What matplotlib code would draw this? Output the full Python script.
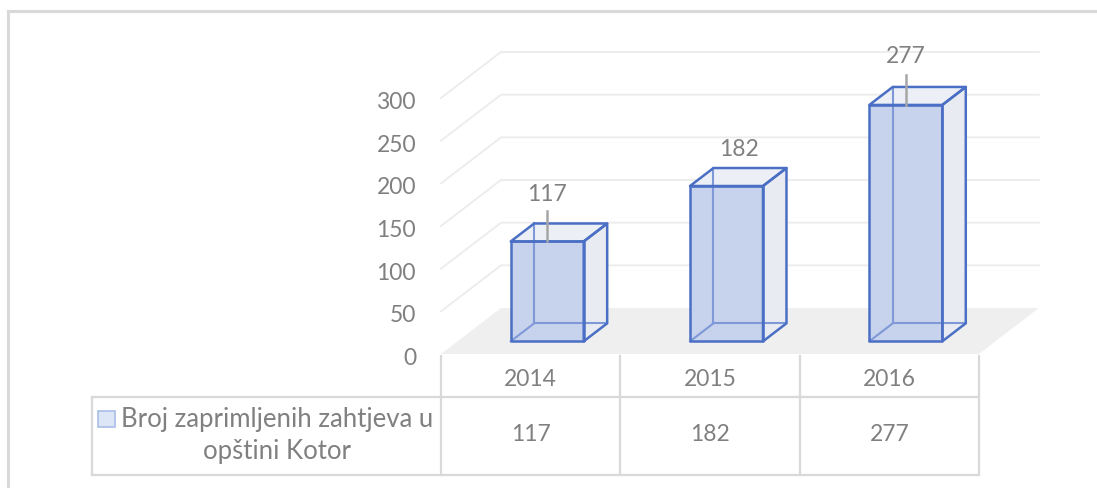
import matplotlib
matplotlib.use('Agg')
import numpy as np
import matplotlib.pyplot as plt
from matplotlib.patches import Polygon, Rectangle

plt.rcParams['font.family'] = ['Lato', 'DejaVu Sans']

# ---- data ----
years = ['2014', '2015', '2016']
values = [117, 182, 277]
series_name = 'Broj zaprimljenih zahtjeva u\nopštini Kotor'
yticks = [0, 50, 100, 150, 200, 250, 300]

# ---- layout (pixel mapping of the fake 3D box) ----
W, H = 1097, 489
PX_CAT = 179.3          # pixels per category
LEFT_PX = 441           # pixel of x = -0.5
PX_VAL = 0.8533         # pixels per value unit
ZERO_PY = 355           # pixel row of value 0 (front)
DX = 60 / PX_CAT        # depth offset of the floor
DV = 46 / PX_VAL
D1, D2 = 0.276, 0.667   # bar depth (front/back)
HW = 0.2036             # half bar width


def px2x(px):
    return -0.5 + (px - LEFT_PX) / PX_CAT


def py2v(py):
    return (ZERO_PY - py) / PX_VAL


def proj(x, v, d):
    return (x + d * DX, v + d * DV)


fig = plt.figure(figsize=(W / 100, H / 100), dpi=100)
ax = fig.add_axes([0, 0, 1, 1])
ax.set_xlim(px2x(0), px2x(W))
ax.set_ylim(py2v(H), py2v(0))
ax.axis('off')

grid_c = '#ececec'
line_c = '#d9d9d9'
txt_c = '#808080'
blue = '#4a6fc4'
FS = 16.5
FS_LEG = 18.5

n = len(years)
xl, xr = -0.5, n - 0.5

# gridlines (left wall + back wall)
for v in yticks[1:]:
    p0 = proj(xl, v, 0)
    p1 = proj(xl, v, 1)
    p2 = proj(xr, v, 1)
    ax.plot([p0[0], p1[0], p2[0]], [p0[1], p1[1], p2[1]], color=grid_c, lw=1.3, zorder=1)

# floor
floor = [proj(xl, 0, 0), proj(xr, 0, 0), proj(xr, 0, 1), proj(xl, 0, 1)]
ax.add_patch(Polygon(floor, closed=True, fc='#efefef', ec='none', zorder=2))

# y tick labels
for v in yticks:
    ax.text(px2x(416), v - 4, str(v), ha='right', va='center', fontsize=FS, color=txt_c)

# bars
for i, val in enumerate(values):
    a, b = i - HW, i + HW
    front = [proj(a, 0, D1), proj(b, 0, D1), proj(b, val, D1), proj(a, val, D1)]
    side = [proj(b, 0, D1), proj(b, 0, D2), proj(b, val, D2), proj(b, val, D1)]
    top = [proj(a, val, D1), proj(b, val, D1), proj(b, val, D2), proj(a, val, D2)]
    ax.add_patch(Polygon(side, closed=True, fc='#e8ebf2', ec='none', zorder=3))
    ax.add_patch(Polygon(top, closed=True, fc='#eceff6', ec='none', zorder=3))
    ax.add_patch(Polygon(front, closed=True, fc='#c7d2ec', ec='none', zorder=3))
    # hidden edges seen through the face
    hidden = [
        [proj(a, 0, D2), proj(a, val, D2)],
        [proj(a, 0, D2), proj(b, 0, D2)],
        [proj(a, 0, D1), proj(a, 0, D2)],
    ]
    for seg in hidden:
        xs, ys = zip(*seg)
        ax.plot(xs, ys, color='#7f99d8', lw=1.5, zorder=4)
    for poly in (front, side, top):
        ax.add_patch(Polygon(poly, closed=True, fc='none', ec=blue, lw=1.8,
                             joinstyle='round', zorder=5))

# data labels (offsets in pixels: dx, dy of label, leader length)
label_pos = [(0, 48, 30), (12, 38, 0), (0, 49, 30)]
for i, val in enumerate(values):
    fx, fv = proj(i, val, D1)
    dxp, dyp, lead = label_pos[i]
    ax.text(fx + dxp / PX_CAT, fv + dyp / PX_VAL, str(val), ha='center', va='center',
            fontsize=FS, color=txt_c, zorder=6)
    if lead:
        ax.plot([fx, fx], [fv, fv + lead / PX_VAL], color='#a6a6a6', lw=1.8, zorder=6)

# data table
row1_bot = py2v(398)
tbl_bot = py2v(475.7)
tbl_left = px2x(92)
for k in range(n + 1):
    xk = -0.5 + k
    ax.plot([xk, xk], [py2v(357), tbl_bot], color=line_c, lw=1.6, zorder=2)
ax.plot([tbl_left, xr], [row1_bot, row1_bot], color=line_c, lw=1.6, zorder=2)
ax.plot([tbl_left, xr], [tbl_bot, tbl_bot], color=line_c, lw=1.6, zorder=2)
ax.plot([tbl_left, tbl_left], [row1_bot, tbl_bot], color=line_c, lw=1.6, zorder=2)

for i, (yr, val) in enumerate(zip(years, values)):
    ax.text(i, py2v(380), yr, ha='center', va='center', fontsize=FS, color=txt_c)
    ax.text(i, py2v(435), str(val), ha='center', va='center', fontsize=FS, color=txt_c)

ax.text(px2x(277), py2v(436), series_name, ha='center', va='center', fontsize=FS_LEG,
        color=txt_c, multialignment='center', linespacing=1.35)
ax.add_patch(Rectangle((px2x(98), py2v(428)), 17 / PX_CAT, 16 / PX_VAL,
                       fc='#dde6f6', ec='#a9bde6', lw=1.2, zorder=3))

# chart frame (top and left edges only are in view)
ax.plot([px2x(8), px2x(W)], [py2v(12), py2v(12)], color=line_c, lw=2.2)
ax.plot([px2x(8), px2x(8)], [py2v(12), py2v(H)], color=line_c, lw=2.2)

plt.savefig('out.png', dpi=100)
plt.close()
